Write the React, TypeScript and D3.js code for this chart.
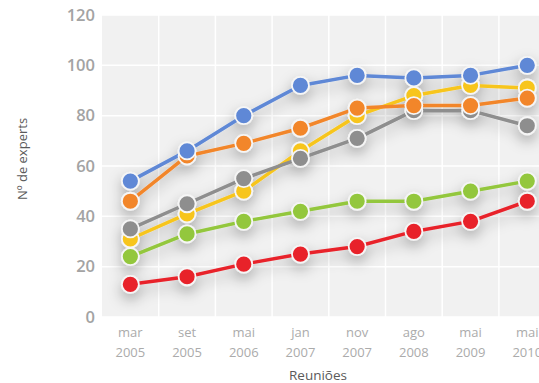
import React from "react";
import * as d3 from "d3";

const categories = [
  ["mar", "2005"],
  ["set", "2005"],
  ["mai", "2006"],
  ["jan", "2007"],
  ["nov", "2007"],
  ["ago", "2008"],
  ["mai", "2009"],
  ["mai", "2010"],
];

const yTicks = [0, 20, 40, 60, 80, 100, 120];

const blueValues = [54, 66, 80, 92, 96, 95, 96, 100];
const orangeValues = [46, 64, 69, 75, 83, 84, 84, 87];
const grayValues = [35, 45, 55, 63, 71, 82, 82, 76];
const yellowValues = [31, 41, 50, 66, 80, 88, 92, 91];
const greenValues = [24, 33, 38, 42, 46, 46, 50, 54];
const redValues = [13, 16, 21, 25, 28, 34, 38, 46];

const series = [
  { key: "yellow", color: "#f7c51e", values: yellowValues },
  { key: "gray", color: "#8e8e8e", values: grayValues },
  { key: "orange", color: "#f2862b", values: orangeValues },
  { key: "blue", color: "#5e88d6", values: blueValues },
  { key: "green", color: "#93c73d", values: greenValues },
  { key: "red", color: "#e8232b", values: redValues },
];

const W = 539;
const H = 383;

export default function App() {
  const keys = categories.map((c) => c.join(" "));
  const x = d3.scaleBand<string>().domain(keys).range([102, 102 + 8 * 56.7]);
  const y = d3.scaleLinear().domain([0, 120]).range([317, 15]);
  const cx = (i: number) => (x(keys[i]) as number) + x.bandwidth() / 2;
  const line = d3
    .line<number>()
    .x((_, i) => cx(i))
    .y((v) => y(v));

  const font = "'Open Sans', 'Noto Sans', sans-serif";

  return (
    <svg
      width={W}
      height={H}
      style={{ position: "absolute", left: 0, top: 0, background: "#fff" }}
      fontFamily={font}
    >
      <defs>
        <filter id="haze" x="-20%" y="-30%" width="140%" height="180%">
          <feDropShadow dx="0" dy="6" stdDeviation="7" floodColor="#000" floodOpacity="0.3" />
        </filter>
      </defs>

      {/* plot background and grid */}
      <rect
        x={x.range()[0]}
        y={y(120)}
        width={x.range()[1] - x.range()[0]}
        height={y(0) - y(120)}
        fill="#f1f1f1"
      />
      {yTicks.map((t) => (
        <line
          key={"h" + t}
          x1={x.range()[0]}
          x2={x.range()[1]}
          y1={y(t)}
          y2={y(t)}
          stroke="#fff"
          strokeWidth={1.5}
        />
      ))}
      {keys.slice(1).map((k) => (
        <line
          key={"v" + k}
          x1={x(k) as number}
          x2={x(k) as number}
          y1={y(120)}
          y2={y(0)}
          stroke="#fff"
          strokeWidth={1.5}
        />
      ))}

      {/* y tick labels */}
      {yTicks.map((t) => (
        <text
          key={"yt" + t}
          x={95}
          y={y(t)}
          dy="0.35em"
          textAnchor="end"
          fontSize={16.5}
          fontWeight={600}
          fill="#a3a3a3"
        >
          {t}
        </text>
      ))}

      {/* x tick labels */}
      {categories.map((c, i) => (
        <text key={"xt" + i} textAnchor="middle" fontSize={13} fill="#ababab">
          <tspan x={cx(i)} y={337}>
            {c[0]}
          </tspan>
          <tspan x={cx(i)} y={357}>
            {c[1]}
          </tspan>
        </text>
      ))}

      {/* axis titles */}
      <text x={318} y={380} textAnchor="middle" fontSize={13.5} fill="#5a5a5a">
        Reuniões
      </text>
      <text
        transform={`translate(27,159) rotate(-90)`}
        textAnchor="middle"
        fontSize={13}
        fill="#5a5a5a"
      >
        Nº de experts
      </text>

      {/* series */}
      <g filter="url(#haze)">
        {series.map((s) => (
          <path
            key={"l" + s.key}
            d={line(s.values) as string}
            fill="none"
            stroke={s.color}
            strokeWidth={3.5}
            strokeLinejoin="round"
          />
        ))}
        {series.map((s) =>
          s.values.map((v, i) => (
            <circle
              key={s.key + i}
              cx={cx(i)}
              cy={y(v)}
              r={8.5}
              fill={s.color}
              stroke="#f6f6f6"
              strokeWidth={1.8}
            />
          ))
        )}
      </g>
    </svg>
  );
}
